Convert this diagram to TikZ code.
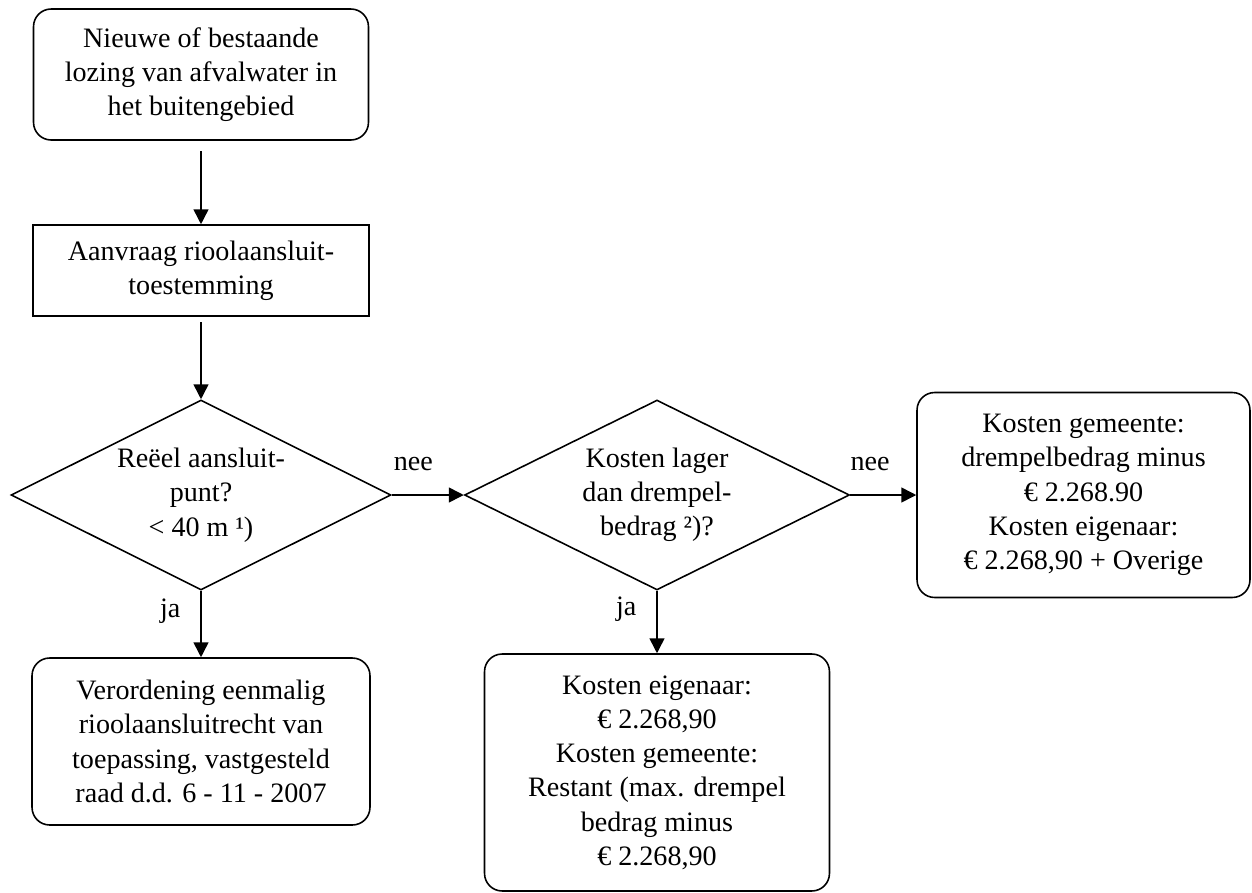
\documentclass[tikz,border=0pt]{standalone}
\usepackage{fontspec}
\setmainfont{Liberation Serif}
\usetikzlibrary{shapes.geometric,arrows.meta}
\begin{document}
\begin{tikzpicture}[x=0.02cm, y=-0.02cm, line width=0.9pt,
  every node/.style={font=\fontsize{16}{19.5}\selectfont, align=center},
  box/.style={draw, rectangle, inner sep=0pt},
  roundbox/.style={box, rounded corners=10pt},
  choice/.style={draw, diamond, aspect=2, inner sep=0pt},
  arr/.style={-{Triangle[length=8.5pt,width=8.5pt]}}]
\useasboundingbox (0,0) rectangle (1252,893);
\node[roundbox, minimum width=6.7cm, minimum height=2.62cm] (lozing) at (201,74.5) {Nieuwe of bestaande\\lozing van afvalwater in\\het buitengebied};
\node[box, minimum width=6.72cm, minimum height=1.82cm] (aanvraag) at (201,270.5) {Aanvraag rioolaansluit-\\toestemming};
\node[choice, minimum width=7.6cm, minimum height=3.8cm] (aansluitpunt) at (201,495) {Reëel aansluit-\\punt?\\< 40 m ¹)};
\node[choice, minimum width=7.7cm, minimum height=3.8cm] (drempel) at (657,495) {Kosten lager\\dan drempel-\\bedrag ²)?};
\node[roundbox, minimum width=6.66cm, minimum height=4.1cm] (gemeente) at (1083.5,495) {Kosten gemeente:\\drempelbedrag minus\\€ 2.268.90\\Kosten eigenaar:\\€ 2.268,90 + Overige};
\node[roundbox, minimum width=6.76cm, minimum height=3.34cm] (verordening) at (201,741.5) {Verordening eenmalig\\rioolaansluitrecht van\\toepassing, vastgesteld\\raad d.d. 6 - 11 - 2007};
\node[roundbox, minimum width=6.9cm, minimum height=4.74cm] (eigenaar) at (657,772.5) {Kosten eigenaar:\\€ 2.268,90\\Kosten gemeente:\\Restant (max. drempel\\bedrag minus\\€ 2.268,90};
\draw[arr, shorten <=6pt] (lozing) -- (aanvraag);
\draw[arr, shorten <=3pt] (aanvraag) -- (aansluitpunt);
\draw[arr] (aansluitpunt) -- node[above=10pt, pos=.3]{nee} (drempel);
\draw[arr] (drempel) -- node[above=10pt, pos=.3]{nee} (gemeente);
\draw[arr] (aansluitpunt) -- node[left=8pt, pos=.3]{ja} (verordening);
\draw[arr] (drempel) -- node[left=8pt, pos=.3]{ja} (eigenaar);
\end{tikzpicture}
\end{document}
